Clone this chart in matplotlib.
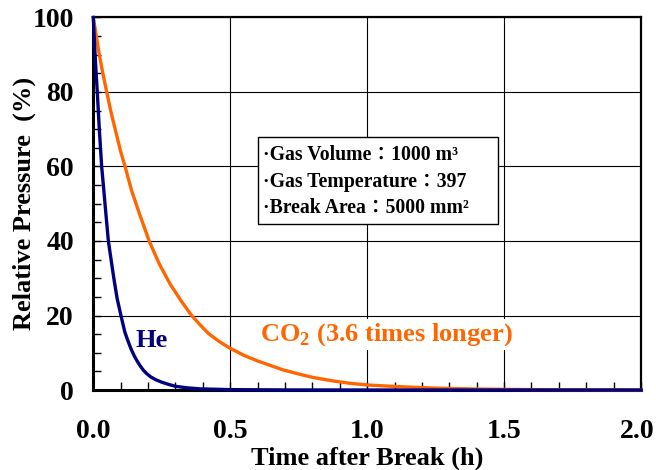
import matplotlib
matplotlib.use("Agg")
import matplotlib.pyplot as plt
from matplotlib.patches import Rectangle
from matplotlib.ticker import MultipleLocator, FormatStrFormatter
from matplotlib.transforms import blended_transform_factory, offset_copy

# Data
he_time = [0.000, 0.005, 0.010, 0.0146, 0.022, 0.0306, 0.038, 0.044, 0.055,
           0.065, 0.075, 0.087, 0.101, 0.115, 0.125, 0.138, 0.150, 0.160,
           0.170, 0.183, 0.195, 0.210, 0.230, 0.250, 0.275, 0.300, 0.340,
           0.390, 0.500, 0.700, 1.000, 1.500, 2.000]
he_pressure = [100, 92.2, 85.5, 80, 70, 60, 54, 49, 40,
               35, 30, 24.6, 20, 15.6, 13.5, 11.0, 9.1, 7.8,
               6.6, 5.3, 4.4, 3.5, 2.7, 2.1, 1.5, 1.0, 0.6,
               0.3, 0.1, 0.02, 0, 0, 0]

co2_time = [0.000, 0.010, 0.022, 0.035, 0.049, 0.065, 0.080, 0.100, 0.116,
            0.140, 0.170, 0.204, 0.240, 0.280, 0.320, 0.359, 0.390, 0.420,
            0.460, 0.500, 0.550, 0.600, 0.650, 0.693, 0.750, 0.800, 0.870,
            0.937, 1.000, 1.100, 1.250, 1.400, 1.600, 1.800, 2.000]
co2_pressure = [100, 95.5, 90, 85, 80, 74.5, 70, 64, 60,
                53.5, 47, 40, 34, 28.5, 24, 20, 17.5, 15.2,
                13.0, 11.2, 9.3, 7.8, 6.5, 5.4, 4.3, 3.4, 2.5,
                1.8, 1.35, 0.95, 0.5, 0.25, 0.1, 0.04, 0]

x_ticks = [0.0, 0.5, 1.0, 1.5, 2.0]
y_ticks = [0, 20, 40, 60, 80, 100]

info_lines = ["\u00b7Gas Volume\uff1a1000 m\u00b3",
              "\u00b7Gas Temperature\uff1a397",
              "\u00b7Break Area\uff1a5000 mm\u00b2"]

SERIF = ["Liberation Serif", "Noto Serif CJK JP", "Noto Sans CJK JP", "DejaVu Serif"]
plt.rcParams["font.family"] = SERIF
plt.rcParams["font.weight"] = "bold"

BLUE = "#000080"
ORANGE = "#FF6600"

fig = plt.figure(figsize=(6.56, 4.70), dpi=100)
ax = fig.add_axes([0.1422, 0.1702, 0.8350, 0.7926])

ax.plot(co2_time, co2_pressure, color=ORANGE, lw=2.4, zorder=5, clip_on=False,
        solid_joinstyle="round")
ax.plot(he_time, he_pressure, color=BLUE, lw=2.4, zorder=6, clip_on=False,
        solid_joinstyle="round")

ax.set_xlim(0, 2.0)
ax.set_ylim(0, 100)
ax.set_xticks(x_ticks)
ax.set_yticks(y_ticks)
ax.xaxis.set_minor_locator(MultipleLocator(0.1))
ax.yaxis.set_minor_locator(MultipleLocator(5))
ax.yaxis.set_major_formatter(FormatStrFormatter("%d"))

ax.grid(True, which="major", color="black", lw=0.8, zorder=1)
ax.set_axisbelow(True)

ax.tick_params(which="both", direction="in", top=False, right=False,
               color="black", width=1.0)
ax.tick_params(which="major", length=6)
ax.tick_params(which="minor", length=6)
ax.tick_params(axis="x", which="both", labelbottom=False)
ax.tick_params(axis="y", which="major", pad=14, labelsize=20)
for lab in ax.get_yticklabels():
    lab.set_fontweight("bold")

# x tick labels (last one nudged inward so it stays within the figure)
xtrans = blended_transform_factory(ax.transData, ax.transAxes)
for v in x_ticks:
    is_last = v == x_ticks[-1]
    tr = offset_copy(xtrans, fig=fig, x=(-4 if is_last else 0), y=0, units="dots")
    ax.text(v, -0.111, f"{v:.1f}", transform=tr, fontsize=20, fontweight="bold",
            ha="center", va="center", clip_on=False)

for side in ["left", "bottom"]:
    ax.spines[side].set_linewidth(2.2)
for side in ["top", "right"]:
    ax.spines[side].set_linewidth(1.6)

ax.set_xlabel("Time after Break (h)", fontsize=19, fontweight="bold", va="center")
ax.xaxis.set_label_coords(0.5, -0.1826)
ax.set_ylabel("Relative Pressure  (%)", fontsize=19, fontweight="bold",
              va="center", ha="center")
ax.yaxis.set_label_coords(-0.1265, 0.502)

# Curve labels
ax.text(0.214, 13.2, "He", color=BLUE, fontsize=19, fontweight="bold",
        ha="center", va="center", zorder=7)
ax.text(0.608, 15.0, r"CO$_\mathdefault{2}$ (3.6 times longer)", color=ORANGE,
        fontsize=19, fontweight="bold", ha="left", va="center", zorder=7,
        bbox=dict(facecolor="white", edgecolor="none", pad=1.5))

# Info box
box = Rectangle((258 / 656, 1 - 224 / 470), 240 / 656, 87 / 470,
                transform=fig.transFigure, facecolor="white", edgecolor="black",
                lw=1.0, zorder=3, clip_on=False)
ax.add_patch(box)
line_y = [155, 182, 208]
for txt, yy in zip(info_lines, line_y):
    ax.text(263 / 656, 1 - yy / 470, txt, transform=fig.transFigure,
            fontsize=14.2, fontweight="bold", ha="left", va="center", zorder=4,
            family=SERIF)

fig.savefig("out.png", dpi=100)
